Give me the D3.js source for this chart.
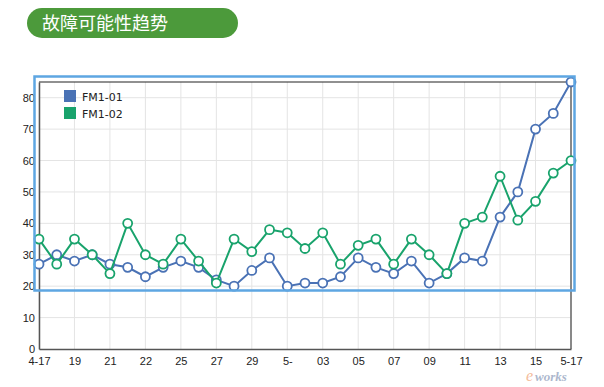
<!DOCTYPE html>
<html>
<head>
<meta charset="utf-8">
<script src="https://cdn.jsdelivr.net/npm/d3@7"></script>
<style>
  body { margin: 0; background: #fff; }
  svg { display: block; font-family: "DejaVu Sans", sans-serif; }
  .grid line { stroke: #e4e4e4; stroke-width: 1; }
  .axis text { font-size: 11px; fill: #222; }
  .axis path, .axis line { stroke: #555; }
</style>
</head>
<body>
<script>
// chart data
var dates = d3.range(31);
var tickLabels = ["4-17", "19", "21", "22", "25", "27", "29", "5-", "03", "05", "07", "09", "11", "13", "15", "5-17"];
var fm101 = [27, 30, 28, 30, 27, 26, 23, 26, 28, 26, 22, 20, 25, 29, 20, 21, 21, 23, 29, 26, 24, 28, 21, 24, 29, 28, 42, 50, 70, 75, 85];
var fm102 = [35, 27, 35, 30, 24, 40, 30, 27, 35, 28, 21, 35, 31, 38, 37, 32, 37, 27, 33, 35, 27, 35, 30, 24, 40, 42, 55, 41, 47, 56, 60];
var yTicks = [0, 10, 20, 30, 40, 50, 60, 70, 80];
var seriesNames = ["FM1-01", "FM1-02"];
var seriesColors = ["#4a72b5", "#19a36c"];

var width = 604, height = 387;
var margin = { left: 39, right: 33, top: 82, bottom: 38 };

var svg = d3.select("body").append("svg")
    .attr("width", width)
    .attr("height", height);

// title pill
svg.append("rect")
    .attr("x", 27).attr("y", 8)
    .attr("width", 211).attr("height", 30)
    .attr("rx", 15)
    .attr("fill", "#4c9a3b");
svg.append("text")
    .attr("x", 42).attr("y", 30)
    .attr("fill", "#fff")
    .attr("font-size", 18)
    .attr("font-family", "'Noto Sans CJK SC', sans-serif")
    .text("故障可能性趋势");

var x = d3.scaleLinear()
    .domain([0, 30])
    .range([margin.left, width - margin.right]);

var y = d3.scaleLinear()
    .domain([0, 85])
    .range([height - margin.bottom, margin.top]);

// grid
var grid = svg.append("g").attr("class", "grid");
grid.selectAll(".h").data(yTicks.slice(1)).enter().append("line")
    .attr("x1", x(0)).attr("x2", x(30))
    .attr("y1", function(d) { return y(d); })
    .attr("y2", function(d) { return y(d); });
grid.selectAll(".v").data(d3.range(0, 31, 2)).enter().append("line")
    .attr("x1", function(d) { return x(d); })
    .attr("x2", function(d) { return x(d); })
    .attr("y1", y(85)).attr("y2", y(0));

// frame: top black, right gray
svg.append("line")
    .attr("x1", x(0)).attr("x2", x(30))
    .attr("y1", y(85)).attr("y2", y(85))
    .attr("stroke", "#222").attr("stroke-width", 1.2);
svg.append("line")
    .attr("x1", x(30)).attr("x2", x(30))
    .attr("y1", y(85)).attr("y2", y(0))
    .attr("stroke", "#666").attr("stroke-width", 1.5);

// axes
var xAxis = d3.axisBottom(x)
    .tickValues(d3.range(0, 31, 2))
    .tickSize(0)
    .tickPadding(8)
    .tickFormat(function(d, i) { return tickLabels[i]; });
svg.append("g")
    .attr("class", "axis")
    .attr("transform", "translate(0," + y(0) + ")")
    .call(xAxis)
    .call(function(g) { g.select(".domain").attr("stroke", "#555").attr("stroke-width", 1.5); });

var yAxis = d3.axisLeft(y)
    .tickValues(yTicks)
    .tickSize(0)
    .tickPadding(4);
svg.append("g")
    .attr("class", "axis")
    .attr("transform", "translate(" + x(0) + ",0)")
    .call(yAxis)
    .call(function(g) { g.select(".domain").attr("stroke", "#555").attr("stroke-width", 1.5); });

// lines and points
var line = d3.line()
    .x(function(d, i) { return x(dates[i]); })
    .y(function(d) { return y(d); });

[fm101, fm102].forEach(function(data, k) {
    var color = seriesColors[k];
    svg.append("path")
        .datum(data)
        .attr("d", line)
        .attr("fill", "none")
        .attr("stroke", color)
        .attr("stroke-width", 2);
    svg.selectAll(".pt" + k).data(data).enter().append("circle")
        .attr("cx", function(d, i) { return x(dates[i]); })
        .attr("cy", function(d) { return y(d); })
        .attr("r", 4.5)
        .attr("fill", "#fff")
        .attr("stroke", color)
        .attr("stroke-width", 1.8);
});

// legend
var legend = svg.append("g").attr("transform", "translate(64,90)");
seriesNames.forEach(function(name, k) {
    legend.append("rect")
        .attr("x", 0).attr("y", k * 17)
        .attr("width", 12).attr("height", 12)
        .attr("fill", seriesColors[k]);
    legend.append("text")
        .attr("x", 18).attr("y", k * 17 + 11)
        .attr("font-size", 11)
        .attr("fill", "#222")
        .text(name);
});

// blue highlight box
svg.append("rect")
    .attr("x", 34.5).attr("y", 76.5)
    .attr("width", 540).attr("height", 214)
    .attr("fill", "none")
    .attr("stroke", "#5ea6e2")
    .attr("stroke-width", 2.5);

// watermark, kept under the tick labels
var wm = svg.append("g").attr("opacity", 0.7);
wm.append("text")
    .attr("x", 526).attr("y", 381)
    .attr("font-size", 16)
    .attr("font-style", "italic")
    .attr("font-family", "'Liberation Serif', serif")
    .attr("fill", "#f0a070")
    .text("e");
wm.append("text")
    .attr("x", 535).attr("y", 381)
    .attr("font-size", 13)
    .attr("font-style", "italic")
    .attr("font-weight", "bold")
    .attr("font-family", "'Liberation Serif', serif")
    .attr("fill", "#8a9ab8")
    .text("works");
</script>
</body>
</html>
